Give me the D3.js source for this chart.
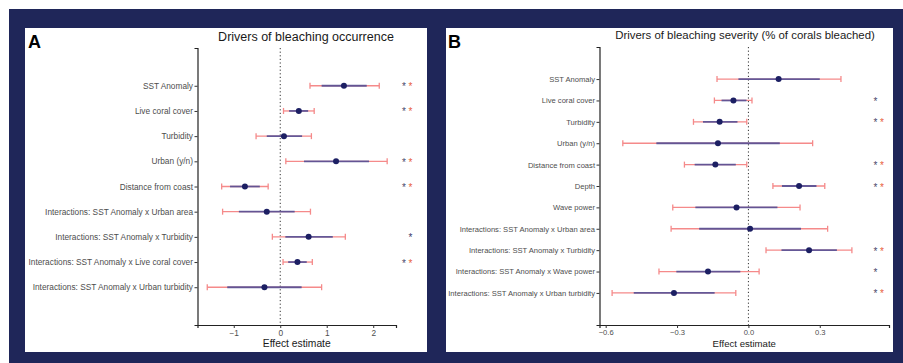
<!DOCTYPE html>
<html lang="en">
<head>
<meta charset="UTF-8">
<script src="https://cdn.jsdelivr.net/npm/d3@7"></script>
<style>
    body { margin: 0; background: white; }
    text { font-family: "Liberation Sans", Arial, sans-serif; }
</style>
</head>
<body>
<div id="chart"></div>
<script>
// ---------- data: panel A (bleaching occurrence) ----------
const occLabels = ["SST Anomaly", "Live coral cover", "Turbidity", "Urban (y/n)", "Distance from coast",
    "Interactions: SST Anomaly x Urban area", "Interactions: SST Anomaly x Turbidity",
    "Interactions: SST Anomaly x Live coral cover", "Interactions: SST Anomaly x Urban turbidity"];
const occEst   = [1.37, 0.40, 0.08, 1.20, -0.76, -0.29, 0.61, 0.37, -0.34];
const occLoOut = [0.64, 0.07, -0.52, 0.12, -1.26, -1.24, -0.17, 0.06, -1.57];
const occHiOut = [2.13, 0.73, 0.67, 2.30, -0.26, 0.65, 1.40, 0.69, 0.89];
const occLoIn  = [0.89, 0.19, -0.29, 0.51, -1.08, -0.89, 0.11, 0.17, -1.14];
const occHiIn  = [1.86, 0.60, 0.47, 1.91, -0.44, 0.31, 1.13, 0.57, 0.46];
const occStarA = [1, 1, 0, 1, 1, 0, 0, 1, 0];   // dark star
const occStarB = [1, 1, 0, 1, 1, 0, 0, 1, 0];   // red star
const occSingle = [0, 0, 0, 0, 0, 0, 1, 0, 0];  // single dark star in second slot
const occTicks = [-1, 0, 1, 2];

// ---------- data: panel B (bleaching severity) ----------
const sevLabels = ["SST Anomaly", "Live coral cover", "Turbidity", "Urban (y/n)", "Distance from coast",
    "Depth", "Wave power", "Interactions: SST Anomaly x Urban area", "Interactions: SST Anomaly x Turbidity",
    "Interactions: SST Anomaly x Wave power", "Interactions: SST Anomaly x Urban turbidity"];
const sevEst   = [0.127, -0.063, -0.121, -0.128, -0.139, 0.213, -0.050, 0.007, 0.255, -0.170, -0.313];
const sevLoOut = [-0.132, -0.143, -0.231, -0.528, -0.269, 0.103, -0.318, -0.325, 0.074, -0.376, -0.573];
const sevHiOut = [0.389, 0.015, -0.007, 0.270, -0.007, 0.321, 0.217, 0.333, 0.435, 0.045, -0.053];
const sevLoIn  = [-0.042, -0.113, -0.191, -0.387, -0.226, 0.141, -0.223, -0.207, 0.139, -0.303, -0.482];
const sevHiIn  = [0.300, -0.008, -0.046, 0.132, -0.053, 0.286, 0.122, 0.221, 0.372, -0.034, -0.142];
const sevStarA = [0, 1, 1, 0, 1, 1, 0, 0, 1, 1, 1];
const sevStarB = [0, 0, 1, 0, 1, 1, 0, 0, 1, 0, 1];
const sevSingle = [0, 0, 0, 0, 0, 0, 0, 0, 0, 0, 0];
const sevTicks = [-0.6, -0.3, 0.0, 0.3];

const W = 903, H = 363;
const navy = "#1f2659";

const svg = d3.select("#chart").append("svg")
    .attr("width", W).attr("height", H);

svg.append("rect").attr("width", W).attr("height", H).attr("fill", "white");
svg.append("rect").attr("x", 9).attr("y", 9).attr("width", W - 9).attr("height", H - 9).attr("fill", navy);

// draws one forest-plot panel
function panel(o) {
    const g = svg.append("g");
    g.append("rect").attr("x", o.box[0]).attr("y", o.box[1])
        .attr("width", o.box[2] - o.box[0]).attr("height", o.box[3] - o.box[1])
        .attr("fill", "white");

    g.append("text").attr("x", o.letterX).attr("y", 47.5)
        .attr("font-size", 18).attr("font-weight", "bold").attr("fill", "black")
        .text(o.letter);

    g.append("text").attr("x", o.titleX).attr("y", o.titleY)
        .attr("text-anchor", "middle").attr("font-size", o.titleSize).attr("fill", "#1a1a1a")
        .text(o.title);

    const x = d3.scaleLinear().domain(o.domain).range([o.left, o.right]);
    const y = d3.scalePoint().domain(o.labels).range([o.top, o.bottom]).padding(1.5);

    // zero reference line
    g.append("line")
        .attr("x1", x(0)).attr("x2", x(0)).attr("y1", o.top).attr("y2", o.bottom)
        .attr("stroke", "#333").attr("stroke-width", 1).attr("stroke-dasharray", "1.2,2.4");

    // axes
    const yAxis = g.append("g").attr("transform", `translate(${o.left},0)`)
        .call(d3.axisLeft(y).tickSize(3).tickPadding(1.5));
    yAxis.select(".domain").attr("stroke", "#222").attr("stroke-width", 1.2);
    yAxis.selectAll(".tick line").attr("stroke", "#333");
    yAxis.selectAll(".tick text").attr("font-size", o.tickSize).attr("fill", "#4d4d4d")
        .attr("font-family", "'Liberation Sans', Arial, sans-serif");

    const xAxis = g.append("g").attr("transform", `translate(0,${o.bottom})`)
        .call(d3.axisBottom(x).tickValues(o.ticks).tickSize(3).tickPadding(2)
            .tickFormat(o.fmt));
    xAxis.select(".domain").attr("stroke", "#222").attr("stroke-width", 1.2);
    xAxis.selectAll(".tick line").attr("stroke", "#333");
    xAxis.selectAll(".tick text").attr("font-size", o.tickSize).attr("fill", "#4d4d4d")
        .attr("font-family", "'Liberation Sans', Arial, sans-serif");

    g.append("text").attr("x", (o.left + o.right) / 2).attr("y", 347)
        .attr("text-anchor", "middle").attr("font-size", o.xlabSize).attr("fill", "#1a1a1a")
        .text("Effect estimate");

    const rows = o.labels.map((l, i) => ({
        label: l, est: o.est[i], lo: o.loOut[i], hi: o.hiOut[i],
        li: o.loIn[i], hiIn: o.hiIn[i], a: o.starA[i], b: o.starB[i], s: o.single[i]
    }));

    const red = "#f58a8a";
    const r = g.selectAll(".row").data(rows).enter().append("g");
    r.append("line").attr("x1", d => x(d.lo)).attr("x2", d => x(d.hi))
        .attr("y1", d => y(d.label)).attr("y2", d => y(d.label))
        .attr("stroke", red).attr("stroke-width", 1.3);
    r.append("line").attr("x1", d => x(d.lo)).attr("x2", d => x(d.lo))
        .attr("y1", d => y(d.label) - 3).attr("y2", d => y(d.label) + 3)
        .attr("stroke", red).attr("stroke-width", 1.3);
    r.append("line").attr("x1", d => x(d.hi)).attr("x2", d => x(d.hi))
        .attr("y1", d => y(d.label) - 3).attr("y2", d => y(d.label) + 3)
        .attr("stroke", red).attr("stroke-width", 1.3);
    r.append("line").attr("x1", d => x(d.li)).attr("x2", d => x(d.hiIn))
        .attr("y1", d => y(d.label)).attr("y2", d => y(d.label))
        .attr("stroke", "#4a4a94").attr("stroke-opacity", 0.85).attr("stroke-width", 1.8);
    r.append("circle").attr("cx", d => x(d.est)).attr("cy", d => y(d.label))
        .attr("r", 3).attr("fill", "#1c1f63");

    // significance stars
    r.filter(d => d.a).append("text").attr("x", o.starX1).attr("y", d => y(d.label) + 4.5)
        .attr("text-anchor", "middle").attr("font-size", 10).attr("fill", "#4a4a6a").text("*");
    r.filter(d => d.b).append("text").attr("x", o.starX2).attr("y", d => y(d.label) + 4.5)
        .attr("text-anchor", "middle").attr("font-size", 10).attr("fill", "#e8603c").text("*");
    r.filter(d => d.s).append("text").attr("x", o.starX2).attr("y", d => y(d.label) + 4.5)
        .attr("text-anchor", "middle").attr("font-size", 10).attr("fill", "#3a3a6a").text("*");
}

panel({
    box: [25, 28, 427, 352], letter: "A", letterX: 28,
    title: "Drivers of bleaching occurrence", titleX: 306, titleY: 41, titleSize: 12.5,
    tickSize: 8.3, xlabSize: 10.3,
    labels: occLabels, est: occEst, loOut: occLoOut, hiOut: occHiOut, loIn: occLoIn, hiIn: occHiIn,
    starA: occStarA, starB: occStarB, single: occSingle,
    domain: [-1.78, 2.49], ticks: occTicks, fmt: d3.format("d"),
    left: 197.5, right: 396, top: 48, bottom: 325, starX1: 404, starX2: 410.5
});

panel({
    box: [446, 28, 893, 352], letter: "B", letterX: 448,
    title: "Drivers of bleaching severity (% of corals bleached)", titleX: 745, titleY: 39, titleSize: 11.4,
    tickSize: 7.6, xlabSize: 9.6,
    labels: sevLabels, est: sevEst, loOut: sevLoOut, hiOut: sevHiOut, loIn: sevLoIn, hiIn: sevHiIn,
    starA: sevStarA, starB: sevStarB, single: sevSingle,
    domain: [-0.626, 0.591], ticks: sevTicks, fmt: d3.format(".1f"),
    left: 599.5, right: 889, top: 47, bottom: 325, starX1: 875.5, starX2: 882
});
</script>
</body>
</html>
